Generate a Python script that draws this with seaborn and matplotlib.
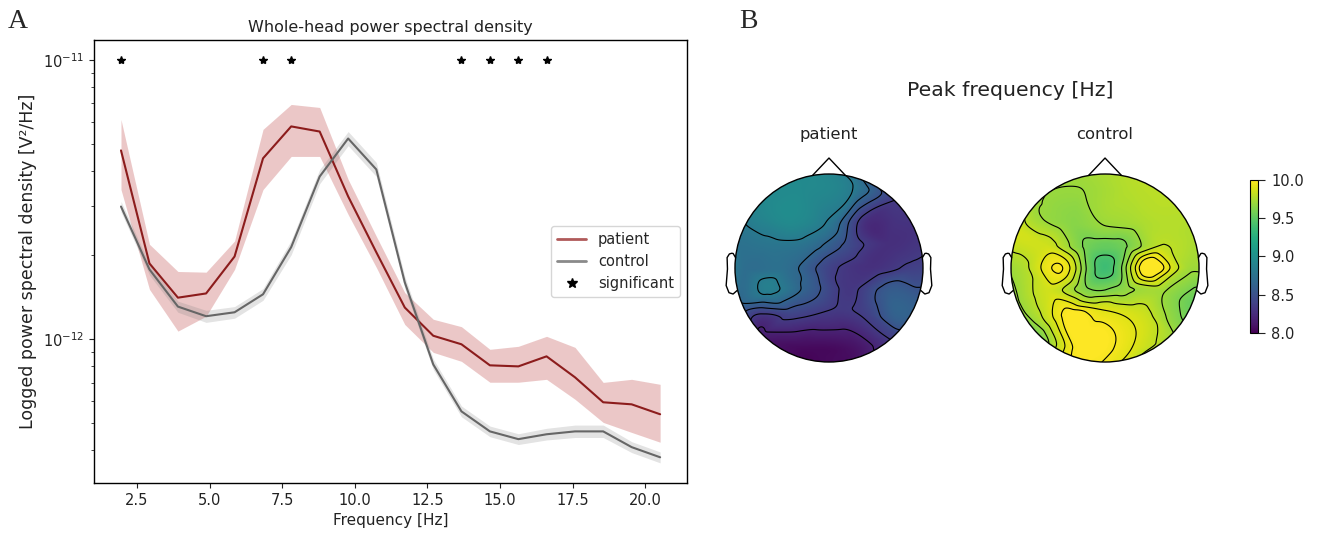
import numpy as np
import matplotlib
matplotlib.use("Agg")
import matplotlib.pyplot as plt
import matplotlib.tri as mtri
from matplotlib.patches import Circle
from matplotlib.lines import Line2D
from matplotlib.ticker import FixedLocator, NullFormatter
import seaborn as sns

# ---------------- panel A data: whole-head PSD ----------------
freqs = [1.95, 2.93, 3.91, 4.88, 5.86, 6.84, 7.81, 8.79, 9.77, 10.74,
         11.72, 12.70, 13.67, 14.65, 15.63, 16.60, 17.58, 18.55, 19.53, 20.51]

patient_mean = [4.75e-12, 1.87e-12, 1.41e-12, 1.46e-12, 1.98e-12, 4.45e-12, 5.79e-12, 5.55e-12, 3.25e-12, 2.05e-12,
                1.30e-12, 1.03e-12, 9.6e-13, 8.07e-13, 8.0e-13, 8.69e-13, 7.31e-13, 5.95e-13, 5.85e-13, 5.39e-13]
patient_upper = [6.13e-12, 2.19e-12, 1.75e-12, 1.74e-12, 2.25e-12, 5.65e-12, 6.94e-12, 6.77e-12, 3.74e-12, 2.34e-12,
                 1.47e-12, 1.18e-12, 1.11e-12, 9.21e-13, 9.44e-13, 1.025e-12, 9.36e-13, 7.01e-13, 7.19e-13, 6.9e-13]
patient_lower = [3.44e-12, 1.51e-12, 1.07e-12, 1.21e-12, 1.78e-12, 3.44e-12, 4.52e-12, 4.52e-12, 2.80e-12, 1.81e-12,
                 1.13e-12, 8.98e-13, 8.34e-13, 7.02e-13, 7.02e-13, 7.19e-13, 6.1e-13, 5.04e-13, 4.64e-13, 4.28e-13]

control_mean = [2.99e-12, 1.78e-12, 1.31e-12, 1.21e-12, 1.25e-12, 1.45e-12, 2.14e-12, 3.83e-12, 5.24e-12, 4.06e-12,
                1.60e-12, 8.13e-13, 5.52e-13, 4.68e-13, 4.39e-13, 4.57e-13, 4.68e-13, 4.68e-13, 4.11e-13, 3.78e-13]
control_upper = [3.12e-12, 1.86e-12, 1.37e-12, 1.27e-12, 1.31e-12, 1.52e-12, 2.26e-12, 4.06e-12, 5.55e-12, 4.30e-12,
                 1.68e-12, 8.5e-13, 5.77e-13, 4.89e-13, 4.59e-13, 4.80e-13, 4.93e-13, 4.93e-13, 4.30e-13, 3.95e-13]
control_lower = [2.86e-12, 1.70e-12, 1.25e-12, 1.15e-12, 1.19e-12, 1.38e-12, 2.01e-12, 3.61e-12, 4.94e-12, 3.83e-12,
                 1.52e-12, 7.8e-13, 5.28e-13, 4.48e-13, 4.20e-13, 4.36e-13, 4.45e-13, 4.45e-13, 3.93e-13, 3.61e-13]

sig_freqs = [1.95, 6.84, 7.81, 13.67, 14.65, 15.63, 16.60]
sig_level = 1e-11

# ---------------- panel B data: peak frequency topomaps ----------------
sensor_names = ["Fp1", "Fp2", "F7", "F3", "Fz", "F4", "F8", "FC5", "FC1", "FC2", "FC6",
                "T7", "C3", "Cz", "C4", "T8", "CP5", "CP1", "CP2", "CP6",
                "P7", "P3", "Pz", "P4", "P8", "O1", "O2"]
sensor_x = [-0.28, 0.28, -0.73, -0.38, 0.0, 0.38, 0.73, -0.64, -0.2, 0.2, 0.64,
            -0.9, -0.45, 0.0, 0.45, 0.9, -0.64, -0.2, 0.2, 0.64,
            -0.73, -0.38, 0.0, 0.38, 0.73, -0.28, 0.28]
sensor_y = [0.86, 0.86, 0.53, 0.48, 0.45, 0.48, 0.53, 0.25, 0.23, 0.23, 0.25,
            0.0, 0.0, 0.0, 0.0, 0.0, -0.25, -0.23, -0.23, -0.25,
            -0.53, -0.48, -0.45, -0.48, -0.53, -0.86, -0.86]

patient_peak = [8.95, 8.8, 8.9, 8.95, 8.78, 8.27, 8.3, 8.78, 8.72, 8.45, 8.27,
                8.72, 8.72, 8.4, 8.28, 8.38, 8.85, 8.58, 8.32, 8.58,
                8.28, 8.42, 8.35, 8.38, 8.62, 8.05, 8.1]
control_peak = [9.7, 9.78, 9.72, 9.65, 9.7, 9.75, 9.78, 9.85, 9.58, 9.58, 9.8,
                9.75, 9.97, 9.38, 10.05, 9.72, 9.85, 9.62, 9.66, 9.7,
                9.75, 10.0, 9.9, 9.85, 9.65, 10.0, 9.9]

# head-border values, counter-clockwise from the right ear (every 22.5 deg)
rim_angles = [0, 22.5, 45, 67.5, 90, 112.5, 135, 157.5, 180, 202.5, 225, 247.5, 270, 292.5, 315, 337.5]
patient_rim = [8.4, 8.3, 8.35, 8.55, 8.9, 8.95, 8.92, 8.78, 8.85, 8.62, 8.15, 8.05, 8.05, 8.15, 8.4, 8.58]
control_rim = [9.72, 9.75, 9.8, 9.8, 9.75, 9.72, 9.72, 9.88, 9.7, 9.65, 9.55, 9.95, 9.95, 9.75, 9.7, 9.5]

cbar_ticks = [8.0, 8.5, 9.0, 9.5, 10.0]
patient_levels = [8.2, 8.35, 8.5, 8.65, 8.82]
control_levels = [9.45, 9.6, 9.7, 9.8, 9.9, 9.97]

sns.set_style("ticks")
plt.rcParams["font.family"] = ["DejaVu Sans"]

red = "#8c1c1c"
grey = "#666666"
txt = "#222222"

fig = plt.figure(figsize=(13.17, 5.35), dpi=100)

# ---------------- panel A ----------------
ax = fig.add_axes([0.0714, 0.0972, 0.4503, 0.828])
ax.set_yscale("log")
ax.fill_between(freqs, patient_lower, patient_upper, color="#b22222", alpha=0.25, lw=0)
ax.fill_between(freqs, control_lower, control_upper, color="grey", alpha=0.22, lw=0)
sns.lineplot(x=freqs, y=patient_mean, color=red, lw=1.5, ax=ax, legend=False)
sns.lineplot(x=freqs, y=control_mean, color=grey, lw=1.5, ax=ax, legend=False)
ax.plot(sig_freqs, [sig_level] * len(sig_freqs), linestyle="none", marker="*",
        color="k", markersize=6)

ax.yaxis.set_major_locator(FixedLocator([1e-12, 1e-11]))
ax.yaxis.set_minor_formatter(NullFormatter())
for sp in ax.spines.values():
    sp.set_color("k")
    sp.set_linewidth(1.0)
ax.tick_params(labelsize=10.5, colors=txt)
ax.set_title("Whole-head power spectral density", fontsize=11.5, color=txt)
ax.set_xlabel("Frequency [Hz]", fontsize=11, color=txt)
ax.set_ylabel("Logged power spectral density [V²/Hz]", fontsize=12.5, color=txt, labelpad=4)

handles = [Line2D([], [], color="#b05a5a", lw=2),
           Line2D([], [], color="#8a8a8a", lw=2),
           Line2D([], [], color="k", marker="*", linestyle="none", markersize=7)]
ax.legend(handles, ["patient", "control", "significant"], loc="center right", fontsize=10.5)

# ---------------- panel B ----------------
ear_x = np.array([.497, .510, .518, .5299, .5419, .54, .547, .532, .510, .489]) * 2
ear_y = np.array([.0555, .0775, .0783, .0746, .0555, -.0055, -.0932, -.1313, -.1384, -.1199]) * 2

rim_rad = np.deg2rad(rim_angles)
pts_x = np.concatenate([sensor_x, 1.06 * np.cos(rim_rad)])
pts_y = np.concatenate([sensor_y, 1.06 * np.sin(rim_rad)])
triang = mtri.Triangulation(pts_x, pts_y)
gx, gy = np.meshgrid(np.linspace(-1, 1, 301), np.linspace(-1, 1, 301))


def topomap(axh, sensor_vals, rim_vals, levels, title):
    z = np.concatenate([sensor_vals, rim_vals])
    interp = mtri.CubicTriInterpolator(triang, z, kind="geom")
    gz = interp(gx, gy)
    im = axh.imshow(gz, extent=(-1, 1, -1, 1), origin="lower", cmap="viridis",
                    vmin=8, vmax=10, interpolation="bilinear")
    clip = Circle((0, 0), 1.0, transform=axh.transData)
    im.set_clip_path(clip)
    cs = axh.contour(gx, gy, gz, levels=levels, colors="k", linewidths=0.8)
    cs.set_clip_path(clip)
    axh.add_patch(Circle((0, 0), 1.0, fill=False, ec="k", lw=1.0))
    axh.plot([-0.175, 0, 0.175], [0.985, 1.17, 0.985], color="k", lw=1.0)
    axh.plot(ear_x, ear_y, color="k", lw=1.0)
    axh.plot(-ear_x, ear_y, color="k", lw=1.0)
    axh.set_xlim(-1.2, 1.2)
    axh.set_ylim(-1.2, 1.2)
    axh.set_aspect("equal")
    axh.axis("off")
    axh.text(0, 1.42, title, ha="center", va="center", fontsize=11.8, color=txt)
    return im


ax_p = fig.add_axes([0.5438, 0.2882, 0.1713, 0.4217])
ax_c = fig.add_axes([0.7534, 0.2882, 0.1713, 0.4217])
topomap(ax_p, patient_peak, patient_rim, patient_levels, "patient")
im = topomap(ax_c, control_peak, control_rim, control_levels, "control")

cax = fig.add_axes([0.9491, 0.3776, 0.0058, 0.286])
cb = fig.colorbar(im, cax=cax, ticks=cbar_ticks)
cb.ax.set_yticklabels([f"{t:.1f}" for t in cbar_ticks])
cb.ax.tick_params(labelsize=10.5, colors=txt, length=5, pad=5)
cb.outline.set_edgecolor("k")

fig.text(1010 / 1317, 1 - 90 / 535, "Peak frequency [Hz]", ha="center", va="center",
         fontsize=14.7, color=txt)

fig.text(18 / 1317, 1 - 22 / 535, "A", ha="center", va="center", fontsize=20,
         family="Liberation Serif")
fig.text(748 / 1317, 1 - 22 / 535, "B", ha="center", va="center", fontsize=20,
         family="Liberation Serif")

fig.savefig("out.png", dpi=100)
